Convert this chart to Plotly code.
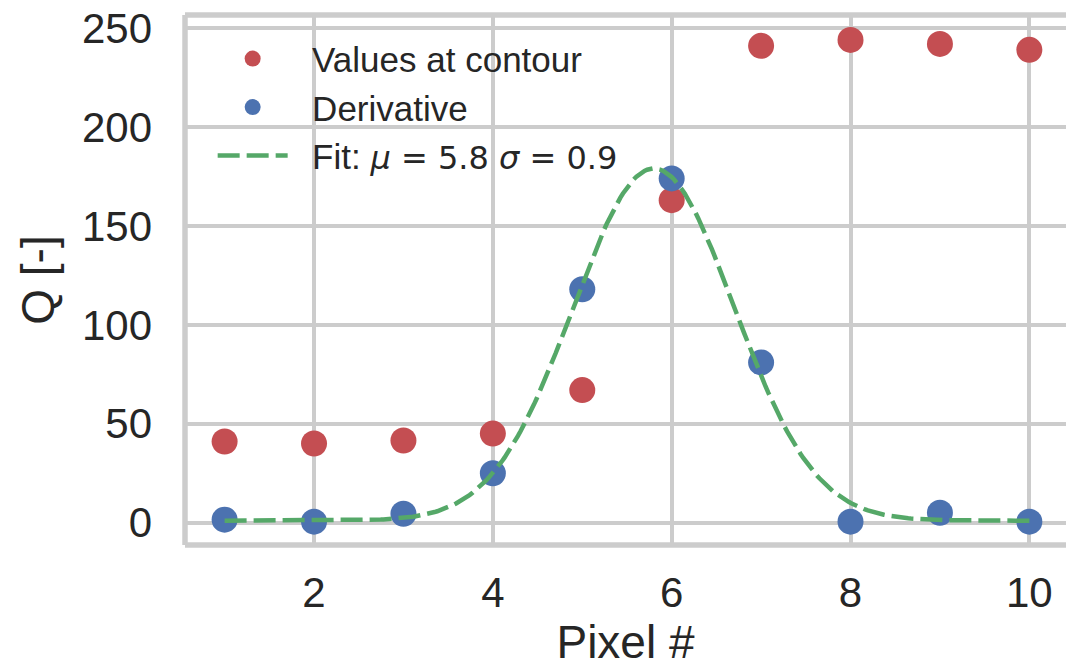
import numpy as np
import plotly.graph_objects as go

# ---- data ----
pixels = [1, 2, 3, 4, 5, 6, 7, 8, 9, 10]
values_at_contour = [41, 40, 41.5, 45, 67, 163, 241, 244, 242, 239]
derivative = [1.5, 0.5, 4.5, 25, 118, 174, 81, 0.5, 5, 0.5]

# Gaussian fit parameters (mu and sigma as given in the legend)
fit_mu = 5.8
fit_sigma = 0.9
fit_amp = 178
fit_offset = 1

x_ticks = [2, 4, 6, 8, 10]
y_ticks = [0, 50, 100, 150, 200, 250]

RED = "#C44E52"
BLUE = "#4C72B0"
GREEN = "#55A868"
GRID = "#cccccc"
TEXT = "#262626"
FONT = "Liberation Sans, Arial, sans-serif"
PAD = "\u00a0\u00a0"

fit_x = np.linspace(pixels[0], pixels[-1], 300)
fit_y = fit_amp * np.exp(-(fit_x - fit_mu) ** 2 / (2 * fit_sigma ** 2)) + fit_offset

fig = go.Figure()
fig.add_trace(go.Scatter(x=pixels, y=values_at_contour, mode="markers",
                         name=PAD + "Values at contour",
                         marker=dict(color=RED, size=26, line=dict(width=0))))
fig.add_trace(go.Scatter(x=pixels, y=derivative, mode="markers",
                         name=PAD + "Derivative",
                         marker=dict(color=BLUE, size=26, line=dict(width=0))))
fig.add_trace(go.Scatter(x=fit_x, y=fit_y, mode="lines",
                         name=(PAD + 'Fit: <span style="font-family:DejaVu Sans;font-size:32px">'
                               '<i>μ</i> = %.1f <i>σ</i> = %.1f</span>' % (fit_mu, fit_sigma)),
                         line=dict(color=GREEN, width=4.5, dash="22px,7px")))

fig.update_layout(
    width=1066, height=668,
    margin=dict(l=185, r=0, t=15, b=123, autoexpand=False),
    paper_bgcolor="white", plot_bgcolor="white",
    font=dict(family=FONT, color=TEXT, size=42),
    showlegend=True,
    legend=dict(x=0.0314, y=0.973, xanchor="left", yanchor="top",
                bgcolor="rgba(0,0,0,0)", borderwidth=0,
                font=dict(size=35, color=TEXT, family=FONT),
                itemwidth=70, tracegroupgap=0),
)
fig.update_xaxes(range=[0.557, 10.41], tickvals=x_ticks, ticks="",
                 showgrid=True, gridcolor=GRID, gridwidth=3.5,
                 zeroline=False, showline=False, automargin=False,
                 tickfont=dict(size=42, color=TEXT),
                 ticklabelstandoff=19,
                 title=dict(text="Pixel #", font=dict(size=46, color=TEXT), standoff=28))
fig.update_yaxes(range=[-11.3, 256.6], tickvals=y_ticks, ticks="",
                 showgrid=True, gridcolor=GRID, gridwidth=3.5,
                 zeroline=False, showline=False, automargin=False,
                 tickfont=dict(size=42, color=TEXT),
                 ticklabelstandoff=32,
                 title=dict(text="Q [-]", font=dict(size=46, color=TEXT), standoff=12))

# spines (left, bottom, top) as in seaborn whitegrid
for x0, y0, x1, y1 in [(0, 0, 0, 1), (0, 0, 1, 0), (0, 1, 1, 1)]:
    fig.add_shape(type="line", xref="paper", yref="paper", x0=x0, y0=y0, x1=x1, y1=y1,
                  line=dict(color=GRID, width=5.5), layer="below")

fig.write_html("out.html")
